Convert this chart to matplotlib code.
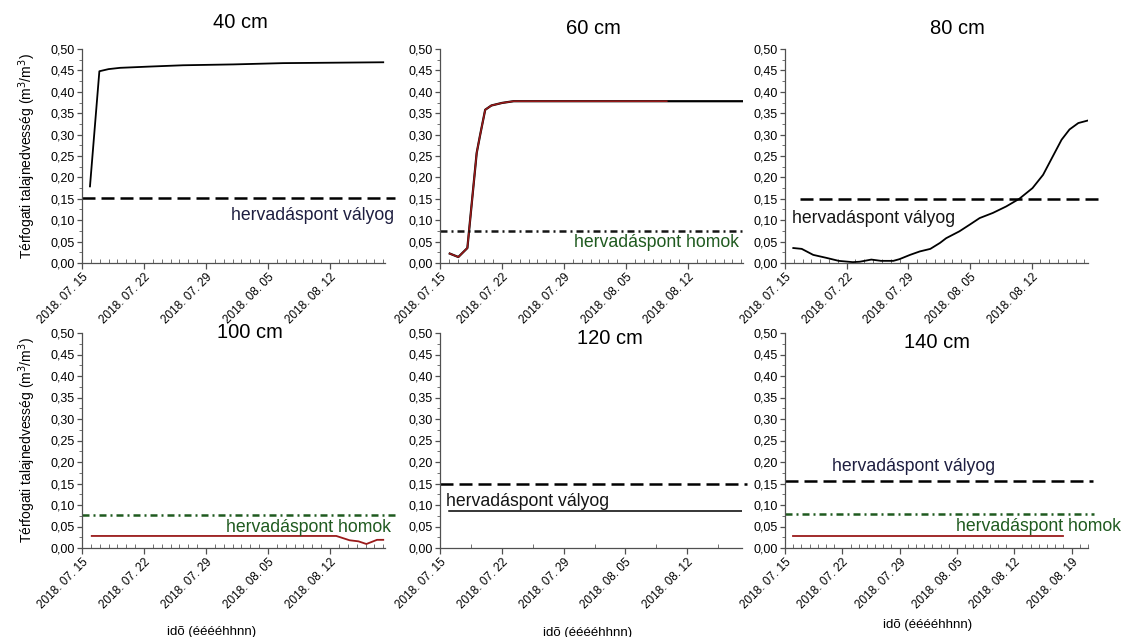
import datetime as dt
import numpy as np
import matplotlib
matplotlib.use("Agg")
import matplotlib.pyplot as plt
import matplotlib.dates as mdates
from matplotlib.ticker import FixedLocator, MultipleLocator, FuncFormatter

plt.rcParams['font.family'] = ['Liberation Sans', 'DejaVu Sans']

# ---------------- data (days after 2018-07-15) ----------------
start_date = dt.date(2018, 7, 15)

d40 = [0.9, 1.96, 3.0, 4.3, 7.7, 11.4, 17.1, 22.7, 28.4, 34.0]
v40 = [0.179, 0.448, 0.453, 0.456, 0.459, 0.462, 0.464, 0.467, 0.468, 0.469]

d60_red = [1.1, 2.07, 3.09, 4.14, 4.5, 5.1, 5.8, 7.0, 8.3, 25.6]
v60_red = [0.022, 0.014, 0.035, 0.257, 0.296, 0.358, 0.368, 0.374, 0.378, 0.378]
d60_black = [1.1, 2.07, 3.09, 4.14, 4.5, 5.1, 5.8, 7.0, 8.3, 34.2]
v60_black = [0.022, 0.014, 0.035, 0.257, 0.296, 0.358, 0.368, 0.374, 0.378, 0.378]

d80 = [0.94, 1.9, 3.2, 4.7, 6.1, 7.7, 8.5, 9.8, 10.9, 12.3, 13.0, 14.2, 15.3,
       16.5, 17.6, 18.3, 19.8, 21.0, 22.1, 23.6, 25.1, 26.6, 28.1, 29.3, 30.4,
       31.4, 32.3, 33.3, 34.4]
v80 = [0.035, 0.033, 0.019, 0.012, 0.005, 0.002, 0.003, 0.008, 0.005, 0.005,
       0.009, 0.019, 0.027, 0.033, 0.047, 0.058, 0.074, 0.090, 0.105, 0.117,
       0.132, 0.150, 0.175, 0.206, 0.249, 0.288, 0.312, 0.327, 0.333]

d100 = [1.1, 28.7, 30.2, 31.2, 32.1, 33.3, 34.0]
v100 = [0.028, 0.028, 0.018, 0.0155, 0.0093, 0.019, 0.019]

d120 = [1.0, 34.2]
v120 = [0.085, 0.085]

d140 = [1.0, 33.9]
v140 = [0.029, 0.029]

wp_loam = 0.152   # hervadáspont vályog
wp_sand = 0.076   # hervadáspont homok

titles = ["40 cm", "60 cm", "80 cm", "100 cm", "120 cm", "140 cm"]
ylabel_txt = "Térfogati talajnedvesség (m$^3$/m$^3$)"
xlabel_txt = "idõ (ééééhhnn)"
loam_txt = "hervadáspont vályog"
sand_txt = "hervadáspont homok"

# ---------------- styling ----------------
RED = "#9a1a1a"
GREEN = "#1f5a1f"
NAVY = "#1e1e40"
W, H = 1129, 637
base = mdates.date2num(start_date)

def X(days):
    return [base + d for d in days]

fig = plt.figure(figsize=(W / 100, H / 100), dpi=100)

def make_ax(x0, y_top, x1, y_bot):
    return fig.add_axes([x0 / W, 1 - y_bot / H, (x1 - x0) / W, (y_bot - y_top) / H])

axes = [
    make_ax(82, 49, 385, 263),
    make_ax(440, 49, 743, 263),
    make_ax(785, 49, 1088, 263),
    make_ax(82, 333, 385, 548),
    make_ax(440, 333, 742, 548),
    make_ax(785, 333, 1088, 548),
]
xends = [34.2, 34.2, 34.4, 34.2, 34.2, 37.0]

date_fmt = mdates.DateFormatter('%Y. %m. %d')
yfmt = FuncFormatter(lambda v, p: f"{v:.2f}".replace('.', ','))

for i, ax in enumerate(axes):
    ax.set_xlim(base, base + xends[i])
    ax.set_ylim(0, 0.5)
    for s in ('top', 'right'):
        ax.spines[s].set_visible(False)
    for s in ('left', 'bottom'):
        ax.spines[s].set_color('#505050')
        ax.spines[s].set_linewidth(0.9)
    ax.xaxis.set_major_locator(FixedLocator(np.arange(base, base + xends[i] + 0.01, 7)))
    if i == 4:
        ax.xaxis.set_minor_locator(FixedLocator(np.arange(base + 3.5, base + xends[i], 7)))
    else:
        ax.xaxis.set_minor_locator(FixedLocator(np.arange(base, base + xends[i] + 0.01, 1)))
    ax.xaxis.set_major_formatter(date_fmt)
    ax.yaxis.set_major_locator(MultipleLocator(0.05))
    ax.yaxis.set_minor_locator(MultipleLocator(0.025))
    ax.yaxis.set_major_formatter(yfmt)
    ax.tick_params(axis='x', which='major', direction='out', length=4, width=0.9,
                   color='#505050', labelsize=8.5, pad=2)
    ax.tick_params(axis='x', which='minor', direction='in', length=3, width=0.7,
                   color='#707070')
    ax.tick_params(axis='y', which='major', direction='out', length=3.5, width=0.9,
                   color='#505050', labelsize=9, pad=1.5)
    ax.tick_params(axis='y', which='minor', direction='out', length=2, width=0.7,
                   color='#707070')
    for lab in ax.get_xticklabels():
        lab.set_rotation(45)
        lab.set_ha('right')
        lab.set_va('top')
        lab.set_rotation_mode('anchor')
    ax.patch.set_alpha(0)

dash_kw = dict(color='black', lw=1.8, dashes=(5.2, 2.4), clip_on=False)
dd_kw = dict(lw=1.8, dashes=(2.8, 1.6, 0.8, 1.6), clip_on=False)
ann = dict(fontsize=12.7)

# 40 cm
ax = axes[0]
ax.plot(X(d40), v40, color='black', lw=1.3)
ax.axhline(wp_loam, xmin=0.0, xmax=1.033, **dash_kw)
ax.text(1.03, 0.112, loam_txt, transform=ax.get_yaxis_transform(), ha='right',
        va='center', color=NAVY, **ann)

# 60 cm
ax = axes[1]
ax.plot(X(d60_black), v60_black, color='black', lw=1.6)
ax.plot(X(d60_red), v60_red, color=RED, lw=1.1)
ax.axhline(wp_sand - 0.001, xmin=0.0, xmax=1.005, color='#151515', **dd_kw)
ax.text(0.987, 0.047, sand_txt, transform=ax.get_yaxis_transform(), ha='right',
        va='center', color=GREEN, **ann)

# 80 cm
ax = axes[2]
ax.plot(X(d80), v80, color='black', lw=1.3)
ax.axhline(wp_loam - 0.002, xmin=0.05, xmax=1.046, **dash_kw)
ax.text(0.023, 0.105, loam_txt, transform=ax.get_yaxis_transform(), ha='left',
        va='center', color='#151515', **ann)

# 100 cm
ax = axes[3]
ax.plot(X(d100), v100, color=RED, lw=1.3)
ax.axhline(wp_sand, xmin=0.0, xmax=1.04, color=GREEN, **dd_kw)
ax.text(1.02, 0.047, sand_txt, transform=ax.get_yaxis_transform(), ha='right',
        va='center', color=GREEN, **ann)

# 120 cm
ax = axes[4]
ax.plot(X(d120), v120, color='black', lw=1.1)
ax.axhline(wp_loam - 0.002, xmin=0.0, xmax=1.016, **dash_kw)
ax.text(0.02, 0.107, loam_txt, transform=ax.get_yaxis_transform(), ha='left',
        va='center', color='#151515', **ann)

# 140 cm
ax = axes[5]
ax.plot(X(d140), v140, color=RED, lw=1.3)
ax.axhline(wp_loam + 0.003, xmin=0.0, xmax=1.016, **dash_kw)
ax.axhline(wp_sand + 0.004, xmin=0.0, xmax=1.02, color=GREEN, **dd_kw)
ax.text(0.155, 0.19, loam_txt, transform=ax.get_yaxis_transform(), ha='left',
        va='center', color=NAVY, **ann)
ax.text(1.11, 0.049, sand_txt, transform=ax.get_yaxis_transform(), ha='right',
        va='center', color=GREEN, **ann)

# titles (pixel positions)
title_pos = [(240, 23), (593, 28), (957, 29), (250, 333), (610, 338), (937, 342)]
for t, (px, py) in zip(titles, title_pos):
    fig.text(px / W, 1 - py / H, t, ha='center', va='center', fontsize=14.5)

# y labels
for py in (156, 440):
    fig.text(27 / W, 1 - py / H, ylabel_txt, rotation=90, ha='center',
             va='center', fontsize=10)

# x labels
for px, py in ((212, 632), (588, 633), (928, 625)):
    fig.text(px / W, 1 - py / H, xlabel_txt, ha='center', va='center', fontsize=9.5)

fig.savefig("out.png", dpi=100, facecolor='white')
